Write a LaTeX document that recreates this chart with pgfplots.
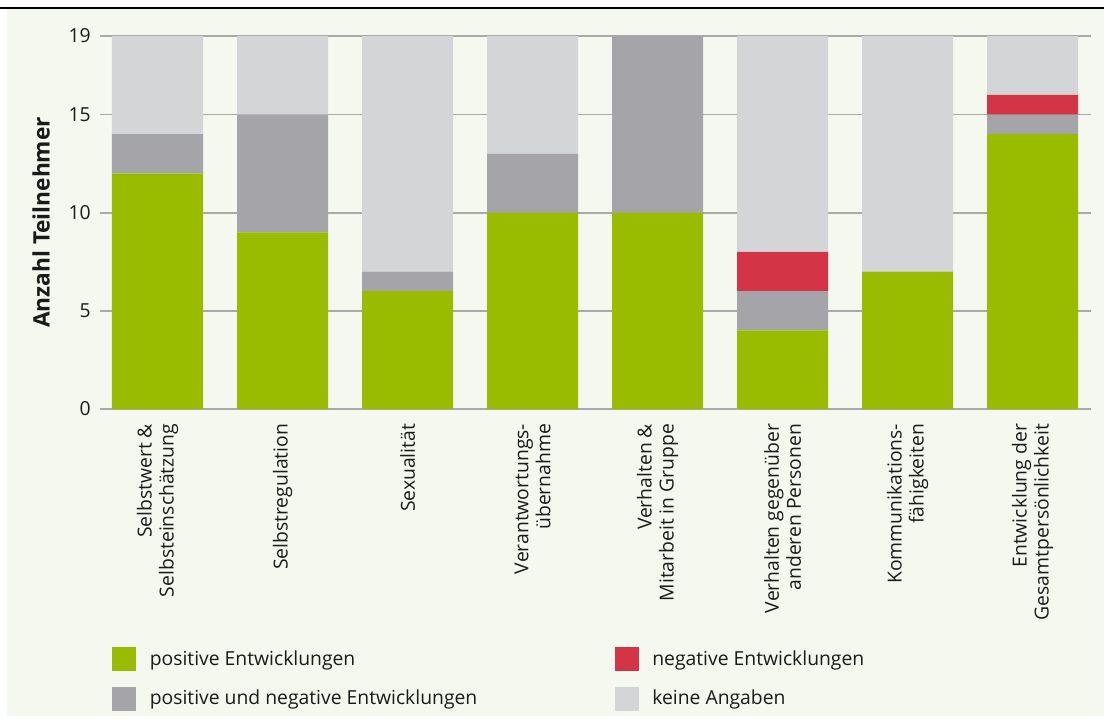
\documentclass[border=0pt]{standalone}
\usepackage{fontspec}
\setmainfont{Open Sans}
\usepackage{pgfplots}
\pgfplotsset{compat=1.18}
\definecolor{cgreen}{HTML}{99BC00}
\definecolor{cred}{HTML}{D33446}
\definecolor{cdark}{HTML}{A5A4A9}
\definecolor{clight}{HTML}{D4D5D7}
\definecolor{bgc}{HTML}{F5F8EE}
\definecolor{gridc}{HTML}{A9A9A9}
\definecolor{txt}{HTML}{1A1A1A}
\begin{document}
\begin{tikzpicture}
\useasboundingbox (0pt,0pt) rectangle (831pt,-541.5pt);
\fill[white] (0pt,0pt) rectangle (831pt,-541.5pt);
\fill[bgc] (5.25pt,-6.75pt) rectangle (828pt,-537pt);
\draw[black, line width=1.5pt] (0pt,-6pt) -- (828pt,-6pt);
\begin{axis}[
  at={(75pt,-306.75pt)}, anchor=south west,
  scale only axis, width=743.25pt, height=279.75pt,
  ybar stacked, bar width=68.25pt,
  xmin=-0.46, xmax=7.468, ymin=0, ymax=19,
  ytick={0,5,10,15,19},
  xtick={0,...,7},
  xticklabels={{Selbstwert \&\\Selbsteinschätzung},{Selbstregulation},{Sexualität},{Verantwortungs-\\übernahme},{Verhalten \&\\Mitarbeit in Gruppe},{Verhalten gegenüber\\anderen Personen},{Kommunikations-\\fähigkeiten},{Entwicklung der\\Gesamtpersönlichkeit}},
  ymajorgrids, major grid style={color=gridc, line width=1.3pt},
  axis line style={draw=none}, major tick length=0pt,
  /pgf/number format/assume math mode=true,
  yticklabel style={font=\fontsize{14.5}{16}\selectfont, text=txt, xshift=-3.5pt},
  xticklabel style={yshift=-11pt, rotate=90, anchor=east, align=right, inner sep=0pt, font=\fontsize{14.5}{16.5}\selectfont, text=txt},
  ylabel={\textbf{Anzahl Teilnehmer}},
  ylabel style={at={(axis description cs:-0.0595,0.5)}, anchor=center, font=\fontsize{17}{19}\selectfont, text=txt},
  legend columns=2,
  legend cell align=left,
  legend style={at={(axis description cs:0.0121,-0.638)}, anchor=north west, draw=none, fill=none, inner sep=0pt, row sep=12pt, font=\fontsize{14.5}{16}\selectfont, text=txt, nodes={inner sep=0pt, text=txt}, /tikz/every odd column/.append style={column sep=10.5pt}},
  legend entries={{\makebox[348.75pt][l]{positive Entwicklungen}},{negative Entwicklungen},{\makebox[348.75pt][l]{positive und negative Entwicklungen}},{keine Angaben}},
]
\addlegendimage{legend image code/.code={\fill[cgreen] (0pt,-8.625pt) rectangle (17.25pt,8.625pt);}}
\addlegendimage{legend image code/.code={\fill[cred] (0pt,-8.625pt) rectangle (17.25pt,8.625pt);}}
\addlegendimage{legend image code/.code={\fill[cdark] (0pt,-8.625pt) rectangle (17.25pt,8.625pt);}}
\addlegendimage{legend image code/.code={\fill[clight] (0pt,-8.625pt) rectangle (17.25pt,8.625pt);}}
% positive
\addplot[fill=cgreen, draw=none] coordinates {(0,12) (1,9) (2,6) (3,10) (4,10) (5,4) (6,7) (7,14)};
% positive und negative
\addplot[fill=cdark, draw=none] coordinates {(0,2) (1,6) (2,1) (3,3) (4,9) (5,2) (6,0) (7,1)};
% negative
\addplot[fill=cred, draw=none] coordinates {(0,0) (1,0) (2,0) (3,0) (4,0) (5,2) (6,0) (7,1)};
% keine Angaben
\addplot[fill=clight, draw=none] coordinates {(0,5) (1,4) (2,12) (3,6) (4,0) (5,11) (6,12) (7,3)};
\end{axis}
\end{tikzpicture}
\end{document}
